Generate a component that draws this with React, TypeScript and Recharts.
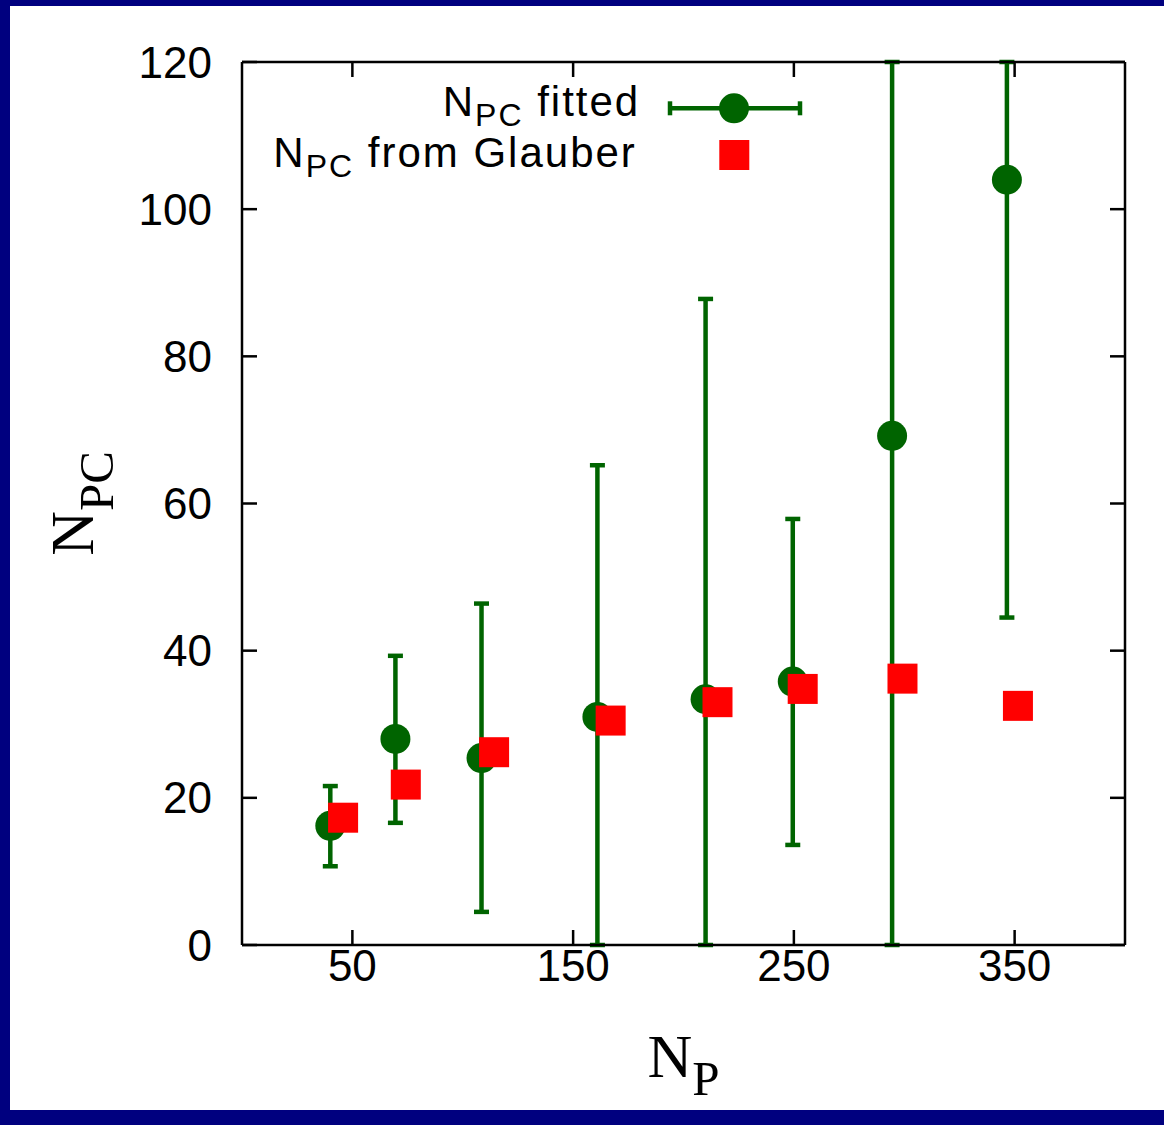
import React from 'react';
import { ScatterChart, Scatter, XAxis, YAxis, ErrorBar, Legend } from 'recharts';

// N_P positions and N_PC values for the fitted points (with error range)
const fittedNp = [40, 69.5, 108.5, 161, 210, 249.5, 294.5, 346.5];
const fittedNpc = [16.2, 28.0, 25.4, 31.0, 33.4, 35.8, 69.2, 104.0];
const fittedLow = [10.7, 16.6, 4.5, 0, 0, 13.6, 0, 44.5];
const fittedHigh = [21.6, 39.3, 46.4, 65.2, 87.8, 57.9, 120, 120];

// Glauber model expectation
const glauberNp = [45.8, 74.2, 114.2, 167, 215.4, 254, 299.2, 351.5];
const glauberNpc = [17.3, 21.8, 26.2, 30.5, 33.0, 34.8, 36.2, 32.5];

const xTicks = [50, 150, 250, 350];
const yTicks = [0, 20, 40, 60, 80, 100, 120];

const legendItems = [
  { base: 'N', sub: 'PC', rest: ' fitted' },
  { base: 'N', sub: 'PC', rest: ' from Glauber' },
];

const fittedData = fittedNp.map((x, i) => ({
  x,
  y: fittedNpc[i],
  err: [fittedNpc[i] - fittedLow[i], fittedHigh[i] - fittedNpc[i]],
}));
const glauberData = glauberNp.map((x, i) => ({ x, y: glauberNpc[i] }));

const SANS = "'Liberation Sans', Arial, Helvetica, sans-serif";
const SERIF = "'Liberation Serif', 'Times New Roman', serif";
const GREEN = '#006400';
const RED = '#ff0000';
const NAVY = '#00007f';

const axisStroke = { stroke: '#000', strokeWidth: 2.5 };
const tickFont = { fill: '#000', fontSize: 44, fontFamily: SANS };

const Dot = (p: any) => <circle cx={p.cx} cy={p.cy} r={15} fill={GREEN} />;
const Square = (p: any) => (
  <rect x={p.cx - 15} y={p.cy - 15} width={30} height={30} fill={RED} />
);

const XTitle = (props: any) => {
  const vb = props.viewBox;
  const x = vb.x + vb.width / 2;
  const y = vb.y + 131.7;
  return (
    <text x={x} y={y} textAnchor="middle" fontFamily={SERIF} fontSize={62} fill="#000">
      <tspan>N</tspan>
      <tspan fontSize={49} dy={18.3}>P</tspan>
    </text>
  );
};

const YTitle = (props: any) => {
  const vb = props.viewBox;
  const x = vb.x + 93;
  const y = vb.y + vb.height / 2;
  return (
    <text
      x={x}
      y={y}
      transform={`rotate(-90, ${x}, ${y})`}
      textAnchor="middle"
      fontFamily={SERIF}
      fontSize={62}
      fill="#000"
    >
      <tspan>N</tspan>
      <tspan fontSize={49} dy={20}>PC</tspan>
    </text>
  );
};

const LegendBox = () => {
  const starts = [442.7, 273.3];
  const baselines = [116, 167.3];
  return (
    <svg width={1164} height={200} style={{ display: 'block' }}>
      {legendItems.map((it, i) => (
        <text
          key={i}
          x={starts[i]}
          y={baselines[i]}
          fontFamily={SANS}
          fontSize={42}
          letterSpacing={2}
          fill="#000"
        >
          <tspan>{it.base}</tspan>
          <tspan fontSize={32} dy={10}>{it.sub}</tspan>
          <tspan dy={-10}>{it.rest}</tspan>
        </text>
      ))}
      {/* fitted: error bar sample with circle */}
      <line x1={670} y1={108.3} x2={800} y2={108.3} stroke={GREEN} strokeWidth={4.5} />
      <line x1={670} y1={101.3} x2={670} y2={115.3} stroke={GREEN} strokeWidth={4.5} />
      <line x1={800} y1={101.3} x2={800} y2={115.3} stroke={GREEN} strokeWidth={4.5} />
      <circle cx={734} cy={108.3} r={15} fill={GREEN} />
      {/* Glauber: square sample */}
      <rect x={719.3} y={140} width={30} height={30} fill={RED} />
    </svg>
  );
};

export default function App() {
  return (
    <div
      style={{
        position: 'absolute',
        left: 0,
        top: 0,
        width: 1164,
        height: 1125,
        background: NAVY,
        overflow: 'hidden',
      }}
    >
      <div
        style={{
          position: 'absolute',
          left: 10,
          top: 6,
          width: 1154,
          height: 1104,
          background: '#fff',
        }}
      />
      <div style={{ position: 'absolute', left: 0, top: 0 }}>
        <ScatterChart
          width={1164}
          height={1125}
          margin={{ top: 61, right: 38, bottom: 0, left: 0 }}
        >
          <XAxis
            xAxisId="b"
            type="number"
            dataKey="x"
            domain={[0, 400]}
            allowDataOverflow
            ticks={xTicks}
            height={180}
            tickSize={-15}
            tickMargin={20}
            axisLine={axisStroke}
            tickLine={axisStroke}
            tick={tickFont}
            label={XTitle}
          />
          <XAxis
            xAxisId="t"
            orientation="top"
            type="number"
            dataKey="x"
            domain={[0, 400]}
            allowDataOverflow
            ticks={xTicks}
            height={1}
            tickSize={-15}
            axisLine={axisStroke}
            tickLine={axisStroke}
            tickFormatter={() => ''}
          />
          <YAxis
            yAxisId="l"
            type="number"
            dataKey="y"
            domain={[0, 120]}
            allowDataOverflow
            ticks={yTicks}
            width={242}
            tickSize={-15}
            tickMargin={45}
            axisLine={axisStroke}
            tickLine={axisStroke}
            tick={tickFont}
            label={YTitle}
          />
          <YAxis
            yAxisId="r"
            orientation="right"
            type="number"
            dataKey="y"
            domain={[0, 120]}
            allowDataOverflow
            ticks={yTicks}
            width={1}
            tickSize={-15}
            axisLine={axisStroke}
            tickLine={axisStroke}
            tickFormatter={() => ''}
          />
          <Scatter
            name="NPC fitted"
            xAxisId="b"
            yAxisId="l"
            data={fittedData}
            shape={Dot}
            isAnimationActive={false}
          >
            <ErrorBar
              dataKey="err"
              direction="y"
              width={7.5}
              stroke={GREEN}
              strokeWidth={4.5}
              isAnimationActive={false}
            />
          </Scatter>
          <Scatter
            name="NPC from Glauber"
            xAxisId="b"
            yAxisId="l"
            data={glauberData}
            shape={Square}
            isAnimationActive={false}
          />
          <Legend
            layout="vertical"
            align="center"
            verticalAlign="middle"
            content={LegendBox}
            wrapperStyle={{ position: 'absolute', left: 0, top: 0, width: 1164, height: 200 }}
          />
        </ScatterChart>
      </div>
    </div>
  );
}
